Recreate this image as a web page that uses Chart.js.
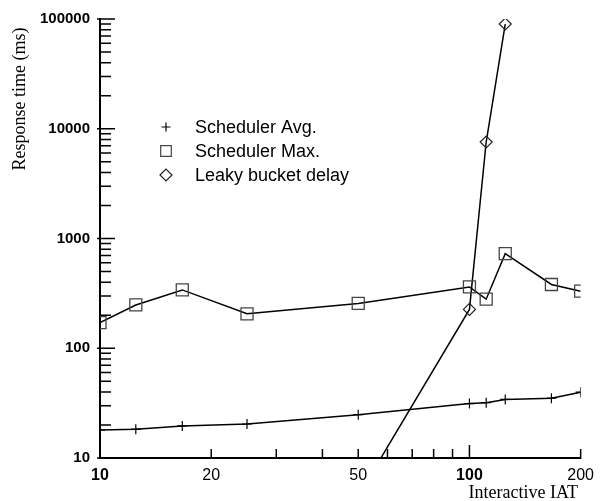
<!DOCTYPE html>
<html>
<head>
<meta charset="utf-8">
<script src="https://cdn.jsdelivr.net/npm/chart.js@4"></script>
<style>html,body{margin:0;padding:0;background:#fff}</style>
</head>
<body>
<canvas id="myChart" width="602" height="501"></canvas>
<script>
// interactive inter-arrival times (x) and measured response times (ms)
var iat = [10, 12.5, 16.7, 25, 50, 100, 111, 125, 166.7, 200];
var schedAvg = [18, 18.3, 19.6, 20.4, 24.8, 31.3, 31.9, 34.2, 35.1, 39.8];
var schedMax = [171, 248, 340, 206, 256, 362, 280, 727, 381, 331];
var leakyIat = [50, 100, 111, 125];
var leakyDelay = [4.5, 226, 7570, 90000];

var xTicks = [10, 20, 30, 40, 50, 60, 70, 80, 90, 100, 200];
var xTickLabels = [10, 20, 50, 100, 200];
var xBoldLabels = [10, 100];
var yTickLabels = [10, 100, 1000, 10000, 100000];
var yTicks = [];
yTickLabels.forEach(function(d, i) {
  if (i == yTickLabels.length - 1) { yTicks.push(d); return; }
  for (var k = 1; k < 10; k++) yTicks.push(d * k);
});

function pts(xs, ys) {
  return xs.map(function(x, i) { return {x: x, y: ys[i]}; });
}

var sans = '"Liberation Sans", Arial, sans-serif';
var serif = '"Liberation Serif", "Times New Roman", serif';

// inward tick marks, axis titles and the legend inside the plot
var decor = {
  id: 'decor',
  afterDraw: function(chart) {
    var ctx = chart.ctx, a = chart.chartArea;
    var xs = chart.scales.x, ys = chart.scales.y;
    ctx.save();
    ctx.strokeStyle = '#000';
    ctx.lineWidth = 1.5;
    ctx.beginPath();
    ys.ticks.forEach(function(t) {
      var y = ys.getPixelForValue(t.value);
      var major = yTickLabels.indexOf(t.value) >= 0;
      ctx.moveTo(a.left - (major ? 3 : 0), y);
      ctx.lineTo(a.left + (major ? 15 : 11), y);
    });
    xs.ticks.forEach(function(t) {
      var x = xs.getPixelForValue(t.value);
      var major = t.value == 100;
      ctx.moveTo(x, a.bottom + 1);
      ctx.lineTo(x, a.bottom - (major ? 13 : 9));
    });
    ctx.stroke();

    ctx.fillStyle = '#000';
    ctx.font = '18px ' + serif;
    ctx.textAlign = 'right';
    ctx.textBaseline = 'middle';
    ctx.fillText('Interactive IAT', 578, 493);
    ctx.save();
    ctx.translate(20, 99);
    ctx.rotate(-Math.PI / 2);
    ctx.textAlign = 'center';
    ctx.fillText('Response time (ms)', 0, 0);
    ctx.restore();

    var legendSizes = [4.5, 7.5, 6];
    ctx.font = '18px ' + sans;
    ctx.textAlign = 'left';
    chart.data.datasets.forEach(function(ds, i) {
      var y = 127 + i * 24;
      ctx.strokeStyle = ds.pointBorderColor;
      ctx.fillStyle = 'rgba(0,0,0,0)';
      ctx.lineWidth = 1.2;
      Chart.helpers.drawPoint(ctx, {pointStyle: ds.pointStyle, radius: legendSizes[i], borderWidth: 1.2, rotation: 0}, 166, y);
      ctx.fillStyle = '#000';
      ctx.fillText(ds.label, 195, y + 1);
    });
    ctx.restore();
  }
};

var ctx = document.getElementById('myChart').getContext('2d');
var myChart = new Chart(ctx, {
  type: 'line',
  data: {
    datasets: [{
        label: 'Scheduler Avg.',
        data: pts(iat, schedAvg),
        borderColor: '#000',
        borderWidth: 1.5,
        pointStyle: 'cross',
        pointRadius: 5,
        pointBorderColor: '#000',
        pointBorderWidth: 1.2,
        clip: 0
      }, {
        label: 'Scheduler Max.',
        data: pts(iat, schedMax),
        borderColor: '#000',
        borderWidth: 1.5,
        pointStyle: 'rect',
        pointRadius: 8.5,
        pointBorderColor: '#444',
        pointBackgroundColor: 'rgba(0,0,0,0)',
        pointBorderWidth: 1.3,
        clip: 0
      }, {
        label: 'Leaky bucket delay',
        data: pts(leakyIat, leakyDelay),
        borderColor: '#000',
        borderWidth: 1.5,
        pointStyle: 'rectRot',
        pointRadius: 6,
        pointBorderColor: '#222',
        pointBackgroundColor: 'rgba(0,0,0,0)',
        pointBorderWidth: 1.2,
        clip: 0
      }
    ]
  },
  options: {
    responsive: false,
    animation: false,
    devicePixelRatio: 1,
    layout: { padding: { top: 16, right: 21, left: 0, bottom: 0 } },
    plugins: {
      legend: { display: false },
      tooltip: { enabled: false }
    },
    scales: {
      x: {
        type: 'logarithmic',
        min: 10,
        max: 200,
        afterFit: function(s) { s.height = 43; },
        afterBuildTicks: function(s) { s.ticks = xTicks.map(function(v) { return {value: v}; }); },
        grid: { drawOnChartArea: false, drawTicks: false },
        border: { display: true, color: '#000', width: 2 },
        ticks: {
          autoSkip: false,
          maxRotation: 0,
          padding: 8,
          color: '#000',
          font: function(c) {
            var b = c.tick && xBoldLabels.indexOf(c.tick.value) >= 0;
            return { family: sans, size: 16, weight: b ? 'bold' : 'normal' };
          },
          callback: function(v) { return xTickLabels.indexOf(v) >= 0 ? String(v) : ''; }
        }
      },
      y: {
        type: 'logarithmic',
        min: 10,
        max: 100000,
        afterFit: function(s) { s.width = 100; },
        afterBuildTicks: function(s) { s.ticks = yTicks.map(function(v) { return {value: v}; }); },
        grid: { drawOnChartArea: false, drawTicks: false },
        border: { display: true, color: '#000', width: 2 },
        ticks: {
          autoSkip: false,
          padding: 10,
          color: '#000',
          font: { family: sans, size: 15, weight: 'bold' },
          callback: function(v) { return yTickLabels.indexOf(v) >= 0 ? String(v) : ''; }
        }
      }
    }
  },
  plugins: [decor]
});
</script>
</body>
</html>
